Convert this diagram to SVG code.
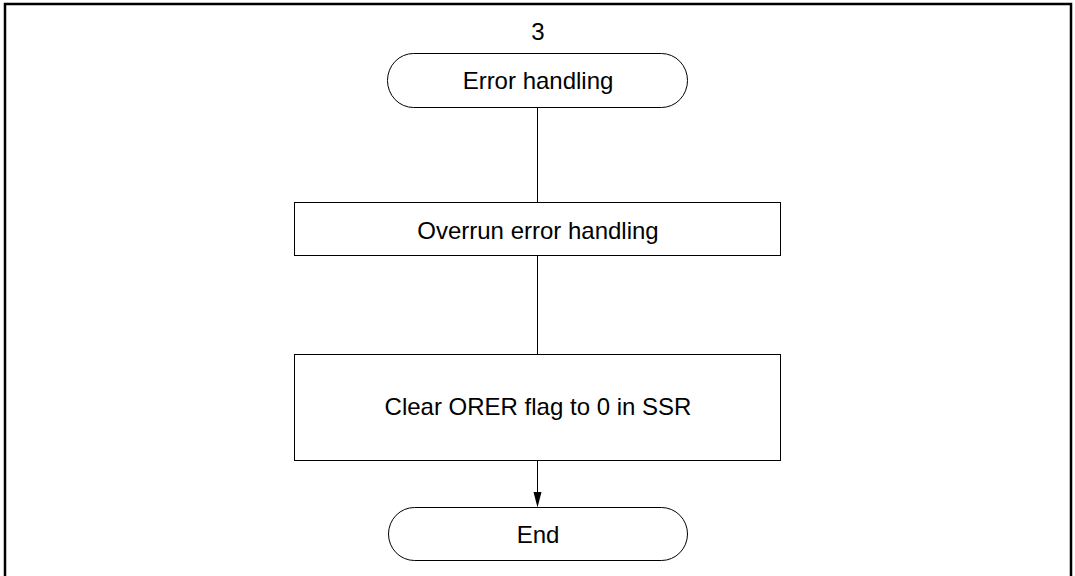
<svg xmlns="http://www.w3.org/2000/svg" width="1075" height="576" viewBox="0 0 1075 576">
<style>
.box{fill:#fff;stroke:#000;stroke-width:1}
.lbl{font-family:"Liberation Sans",Arial,sans-serif;font-size:24px;fill:#000;text-anchor:middle}
.conn{stroke:#000;stroke-width:1;fill:none}
.head{fill:#000;stroke:none}
</style>
<rect width="1075" height="576" fill="#fff"/>
<path d="M5,576 L5,4 L1071,4 L1071,576" fill="none" stroke="#000" stroke-width="2.5"/>
<g id="connectors">
<line class="conn" x1="537.5" y1="107" x2="537.5" y2="202"/>
<line class="conn" x1="537.5" y1="255" x2="537.5" y2="354"/>
<line class="conn" x1="537.5" y1="461" x2="537.5" y2="494"/>
<path class="head" d="M533.5,492 L541.5,492 L537.5,507.5 Z"/>
</g>
<g id="label3">
<text class="lbl" x="538" y="40">3</text>
</g>
<g id="start">
<rect class="box" x="387.5" y="53.5" width="300" height="54" rx="26" ry="27"/>
<text class="lbl" x="538" y="89">Error handling</text>
</g>
<g id="overrun">
<rect class="box" x="294.5" y="202.5" width="486" height="53"/>
<text class="lbl" x="538" y="239">Overrun error handling</text>
</g>
<g id="clear">
<rect class="box" x="294.5" y="354.5" width="486" height="106"/>
<text class="lbl" x="538" y="415">Clear ORER flag to 0 in SSR</text>
</g>
<g id="end">
<rect class="box" x="388.5" y="507.5" width="299" height="53" rx="26" ry="26.5"/>
<text class="lbl" x="538" y="543">End</text>
</g>
</svg>
